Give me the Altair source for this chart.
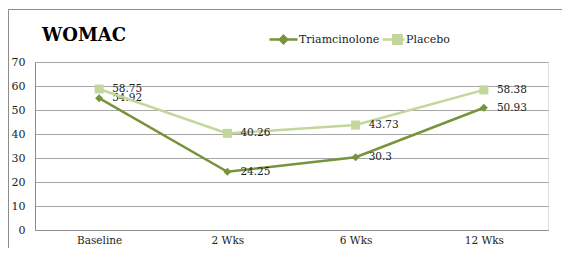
import altair as alt
import pandas as pd

categories = ["Baseline", "2 Wks", "6 Wks", "12 Wks"]
triamcinolone = [54.92, 24.25, 30.3, 50.93]
placebo = [58.75, 40.26, 43.73, 58.38]
label_tri = ["54.92", "24.25", "30.3", "50.93"]
label_pla = ["58.75", "40.26", "43.73", "58.38"]
series_names = ["Triamcinolone", "Placebo"]
colors = ["#77933C", "#C3D69B"]
y_ticks = [0, 10, 20, 30, 40, 50, 60, 70]
chart_title = ["WOMAC"]

rows = []
for c, v, l in zip(categories, triamcinolone, label_tri):
    rows.append({"cat": c, "value": v, "label": l, "series": series_names[0]})
for c, v, l in zip(categories, placebo, label_pla):
    rows.append({"cat": c, "value": v, "label": l, "series": series_names[1]})
df = pd.DataFrame(rows)

FONT = "DejaVu Serif"

x_enc = alt.X("cat:N", sort=categories,
              scale=alt.Scale(type="point", padding=0.5),
              axis=alt.Axis(title=None, labelAngle=0, ticks=False, grid=False,
                            domainColor="#8C8C8C", labelFont=FONT, labelFontSize=10.5,
                            labelColor="#222", labelPadding=5))
y_enc = alt.Y("value:Q", scale=alt.Scale(domain=[0, 70], nice=False),
              axis=alt.Axis(title=None, values=y_ticks, ticks=False, grid=True,
                            gridColor="#A6A6A6", domainColor="#8C8C8C",
                            labelFont=FONT, labelFontSize=11, labelColor="#222",
                            labelPadding=10))

sym_paths = [
    "M-1,0L1,0M0,-0.26L0.26,0L0,0.26L-0.26,0Z",
    "M-1,0L1,0M-0.02,-0.38L0.74,-0.38L0.74,0.38L-0.02,0.38Z",
]
sym_sizes = [784, 484]
shapes = ["diamond", "square"]
sizes = [64, 81]
leg_x = [233, 346]
leg_y = [-38, -35]

frame = alt.Chart(alt.Data(values=[{"k": 1}])).mark_rect(
    fill=None, stroke="#8C8C8C", strokeWidth=1
).encode(x=alt.value(-26.5), y=alt.value(-52.5), x2=alt.value(700), y2=alt.value(400))

title_df = pd.DataFrame({"t": chart_title})
title = alt.Chart(title_df).mark_text(
    align="left", baseline="alphabetic", font=FONT, fontSize=18,
    fontWeight="bold", color="#000"
).encode(x=alt.value(7), y=alt.value(-21), text="t:N")

layers = [frame, title]
for i, name in enumerate(series_names):
    base = alt.Chart(df).transform_filter(alt.datum.series == name)
    line = base.mark_line(strokeWidth=2.5).encode(
        x=x_enc, y=y_enc,
        color=alt.Color("series:N",
                        scale=alt.Scale(domain=[name], range=[colors[i]]),
                        legend=alt.Legend(title=None, orient="none",
                                          legendX=leg_x[i], legendY=leg_y[i],
                                          symbolType=sym_paths[i], symbolSize=sym_sizes[i],
                                          symbolStrokeWidth=2.5,
                                          symbolFillColor=colors[i],
                                          labelFont=FONT, labelFontSize=11,
                                          labelColor="#222", labelOffset=0,
                                          padding=0)),
    )
    pts = base.mark_point(filled=True, shape=shapes[i], size=sizes[i],
                          color=colors[i], opacity=1).encode(x=x_enc, y=y_enc)
    txt = base.mark_text(align="left", baseline="middle", dx=13, font=FONT,
                         fontSize=10.5, color="#222").encode(x=x_enc, y=y_enc, text="label:N")
    layers += [line, pts, txt]

chart = alt.layer(*layers).resolve_scale(color="independent").properties(
    width=513, height=168,
    autosize=alt.AutoSizeParams(type="none"),
    padding={"left": 27, "top": 54, "right": 14, "bottom": 18},
).configure_view(stroke=None).configure(background="white")

chart.save("out.html", embed_options={"renderer": "svg", "actions": False})
